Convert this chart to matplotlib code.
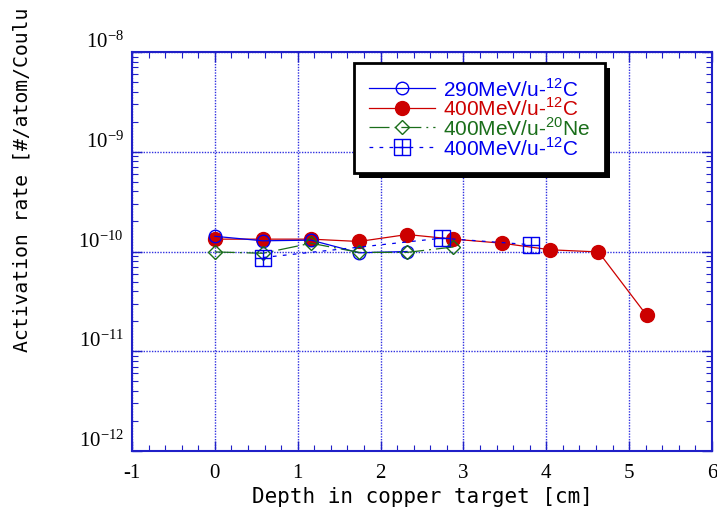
import math
import matplotlib
matplotlib.use("Agg")
import matplotlib.pyplot as plt
from matplotlib.path import Path
from matplotlib.lines import Line2D
from matplotlib.patches import Rectangle
from matplotlib.transforms import Affine2D
from matplotlib.ticker import FixedLocator, LogLocator, AutoMinorLocator, FuncFormatter

# --- dados ---
depth_290_c12 = [0.0, 0.58, 1.16, 1.74, 2.32]
rate_290_c12 = [1.42e-10, 1.28e-10, 1.30e-10, 0.97e-10, 1.00e-10]

depth_400_c12 = [0.0, 0.58, 1.16, 1.74, 2.32, 2.88, 3.47, 4.05, 4.63, 5.21]
rate_400_c12 = [1.33e-10, 1.33e-10, 1.33e-10, 1.26e-10, 1.48e-10, 1.33e-10,
                1.21e-10, 1.04e-10, 0.99e-10, 0.23e-10]

depth_400_ne20 = [0.0, 0.58, 1.16, 1.74, 2.32, 2.88]
rate_400_ne20 = [0.99e-10, 0.96e-10, 1.21e-10, 0.98e-10, 0.98e-10, 1.11e-10]

depth_400_c12b = [0.58, 2.74, 3.81]
rate_400_c12b = [0.87e-10, 1.36e-10, 1.17e-10]

labels = ["290MeV/u-$^{\\mathsf{12}}$C", "400MeV/u-$^{\\mathsf{12}}$C",
          "400MeV/u-$^{\\mathsf{20}}$Ne", "400MeV/u-$^{\\mathsf{12}}$C"]

# --- estilo ---
plt.rcParams['mathtext.fontset'] = 'custom'
plt.rcParams['mathtext.rm'] = 'Liberation Serif'
plt.rcParams['mathtext.sf'] = 'Liberation Sans'

BLUE = '#0000ee'
RED = '#cc0000'
GREEN = '#1a6e1a'
FRAME = '#2020c8'

# marcador quadrado com cruz
box_cross = Path([(-1, -1), (1, -1), (1, 1), (-1, 1), (-1, -1), (0, -1), (0, 1), (-1, 0), (1, 0)],
                 [Path.MOVETO, Path.LINETO, Path.LINETO, Path.LINETO, Path.LINETO,
                  Path.MOVETO, Path.LINETO, Path.MOVETO, Path.LINETO])

W, H = 717, 517
fig = plt.figure(figsize=(W / 100, H / 100), dpi=100)
ax = fig.add_axes([132 / W, 66 / H, 580 / W, 399 / H])

# coordenadas em pixels a partir do canto superior esquerdo
pix = Affine2D().scale(1 / W, -1 / H).translate(0, 1) + fig.transFigure

styles = [
    dict(color=BLUE, lw=0.9, marker='o', ms=9, mfc='none', mec=BLUE, mew=1.0, zorder=4),
    dict(color=RED, lw=0.9, marker='o', ms=10, mfc=RED, mec=RED, zorder=3),
    dict(color=GREEN, lw=0.9, ls=(0, (16, 4, 1.5, 4)), marker='D', ms=7, mfc='none',
         mec=GREEN, mew=1.0, zorder=5),
    dict(color=BLUE, lw=0.9, ls=(0, (3, 5)), marker=box_cross, ms=11, mfc='none',
         mec=BLUE, mew=1.0, zorder=6),
]
series = [(depth_290_c12, rate_290_c12), (depth_400_c12, rate_400_c12),
          (depth_400_ne20, rate_400_ne20), (depth_400_c12b, rate_400_c12b)]

for (xs, ys), st in zip(series, styles):
    ax.plot(xs, ys, **st)

ax.set_yscale('log')
ax.set_xlim(-1, 6)
ax.set_ylim(1e-12, 1e-8)

ax.xaxis.set_major_locator(FixedLocator(range(-1, 7)))
ax.xaxis.set_minor_locator(AutoMinorLocator(5))
ax.yaxis.set_major_locator(LogLocator(base=10, numticks=10))
ax.yaxis.set_minor_locator(LogLocator(base=10, subs=range(2, 10), numticks=20))
ax.yaxis.set_major_formatter(FuncFormatter(lambda v, p: "$\\mathrm{10^{%d}}$" % round(math.log10(v))))
ax.xaxis.set_major_formatter(FuncFormatter(lambda v, p: "%d" % v))

ax.tick_params(which='both', direction='in', top=True, right=True, color=FRAME)
ax.tick_params(which='major', length=7, width=1)
ax.tick_params(which='minor', length=4, width=0.8)
ax.tick_params(axis='x', labelsize=15, pad=9)
ax.tick_params(axis='y', labelsize=15, pad=6)
for lab in ax.get_xticklabels():
    lab.set_family('Liberation Serif')
for lab in ax.get_yticklabels():
    lab.set_va('bottom')

for s in ax.spines.values():
    s.set_color(FRAME)
    s.set_linewidth(1.5)

ax.grid(True, which='major', color='#3030e0', ls=(0, (1, 1)), lw=1.0)

# rótulos dos eixos
fig.text(422, 497, "Depth in copper target [cm]", transform=pix, family='DejaVu Sans Mono',
         fontsize=15, ha='center', va='center')
fig.text(22, 352, "Activation rate [#/atom/Coulu", transform=pix, family='DejaVu Sans Mono',
         fontsize=14.2, rotation=90, ha='center', va='bottom')

# --- legenda desenhada à mão ---
fig.add_artist(Rectangle((359, 68), 251, 110, transform=pix, facecolor='black',
                         edgecolor='none', zorder=10))
fig.add_artist(Rectangle((354, 63), 251, 110, transform=pix, facecolor='white',
                         edgecolor='black', lw=2, zorder=11))
row_y = [88, 107.5, 127, 147]
for yy, st, lab, c in zip(row_y, styles, labels, [BLUE, RED, GREEN, BLUE]):
    st = dict(st)
    st['zorder'] = 12
    fig.add_artist(Line2D([369, 435], [yy, yy], transform=pix, markevery=[], **st))
    mk = dict(st)
    mk['ls'] = 'none'
    fig.add_artist(Line2D([402], [yy], transform=pix, **mk))
    fig.text(443, yy + 1, lab, transform=pix, family='Liberation Sans', fontsize=15,
             color=c, ha='left', va='center', zorder=13)

fig.savefig("out.png", dpi=100)
